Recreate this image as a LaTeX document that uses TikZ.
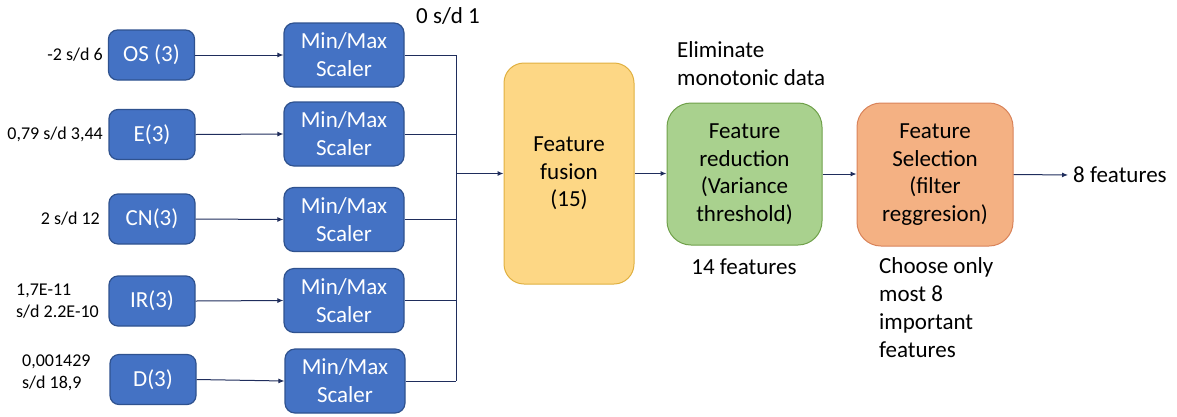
\documentclass[tikz,border=0pt]{standalone}
\usepackage{fontspec}
\setmainfont{Carlito}
\usetikzlibrary{arrows.meta}
\definecolor{boxblue}{HTML}{4472C4}
\definecolor{boxblueline}{HTML}{2F528F}
\definecolor{linenavy}{HTML}{1F2D5C}
\definecolor{fusionfill}{HTML}{FDD785}
\definecolor{fusionline}{HTML}{E0B040}
\definecolor{redfill}{HTML}{A9D18E}
\definecolor{redline}{HTML}{6FA04A}
\definecolor{selfill}{HTML}{F4B183}
\definecolor{selline}{HTML}{D9835A}
\tikzset{
  inbox/.style={draw=boxblueline, line width=1.2pt, fill=boxblue, rounded corners=9pt,
    minimum width=86pt, minimum height=50pt, inner sep=0pt, text=white, font=\fontsize{23}{27}\selectfont},
  scalerbox/.style={draw=boxblueline, line width=1.2pt, fill=boxblue, rounded corners=10pt,
    minimum width=120pt, minimum height=64pt, inner sep=0pt, text=white, align=center,
    font=\fontsize{23}{28}\selectfont},
  bigbox/.style={line width=1pt, inner sep=0pt, align=center, text=black,
    font=\fontsize{23}{27.5}\selectfont},
  lbl/.style={inner sep=0pt, text=black, font=\fontsize{18}{22}\selectfont},
  rlbl/.style={inner sep=0pt, text=black, font=\fontsize{23}{28}\selectfont},
  conn/.style={draw=linenavy, line width=1pt},
  arr/.style={conn, -{Latex[length=6pt,width=5pt]}},
}
\begin{document}
\begin{tikzpicture}[x=1pt, y=-1pt]
\useasboundingbox (0,0) rectangle (1177,416);
% input boxes
\node[inbox] (os) at (151.5,55) {OS (3)};
\node[inbox] (e)  at (152,134.5) {E(3)};
\node[inbox] (cn) at (152,219) {CN(3)};
\node[inbox] (ir) at (152,301) {IR(3)};
\node[inbox] (d)  at (153,379.5) {D(3)};
% scalers
\node[scalerbox] (s1) at (344,55) {Min/Max\\Scaler};
\node[scalerbox] (s2) at (344,134) {Min/Max\\Scaler};
\node[scalerbox] (s3) at (344,219.5) {Min/Max\\Scaler};
\node[scalerbox] (s4) at (344,300.5) {Min/Max\\Scaler};
\node[scalerbox] (s5) at (345,381) {Min/Max\\Scaler};
% left labels
\node[lbl, anchor=east] (l1) at (103,55) {-2 s/d 6};
\node[lbl, anchor=east] (l2) at (103,134) {0,79 s/d 3,44};
\node[lbl, anchor=east] (l3) at (100,219) {2 s/d 12};
\node[lbl, anchor=west, align=left, font=\fontsize{18}{22}\selectfont] (l4) at (16,301) {1,7E-11\\s/d 2.2E-10};
\node[lbl, anchor=west, align=left, font=\fontsize{18}{22}\selectfont] (l5) at (22,373) {0,001429\\s/d 18,9};
% big boxes
\node[bigbox, draw=fusionline, fill=fusionfill, rounded corners=20pt,
  minimum width=130pt, minimum height=221pt] (fus) at (569,173.5) {Feature\\fusion\\(15)};
\node[bigbox, draw=redline, fill=redfill, rounded corners=24pt,
  minimum width=155pt, minimum height=142pt] (red) at (744.5,174) {Feature\\reduction\\(Variance\\threshold)};
\node[bigbox, draw=selline, fill=selfill, rounded corners=24pt,
  minimum width=156pt, minimum height=143pt] (sel) at (935,174.5) {Feature\\Selection\\(filter\\reggresion)};
% right labels
\node[rlbl, anchor=west] (zero) at (416,16) {0 s/d 1};
\node[rlbl, anchor=west, align=left] (elim) at (677,63.5) {Eliminate\\monotonic data};
\node[rlbl] (f14) at (744,267) {14 features};
\node[rlbl, anchor=north west, align=left] (choose) at (879,257) {Choose only\\most 8\\important\\features};
\node[rlbl, anchor=west] (f8) at (1073,175) {8 features};
% connectors
\foreach \a/\b in {os/s1,e/s2,cn/s3,ir/s4,d/s5}{
  \draw[arr] (\a.east) -- (\b.west);
}
\coordinate (b1) at (456,55);
\coordinate (b5) at (456,381);
\coordinate (bm) at (456,173.5);
\draw[conn] (s1.east) -- (b1);
\draw[conn] (s2.east) -- (s2.east -| b1);
\draw[conn] (s3.east) -- (s3.east -| b1);
\draw[conn] (s4.east) -- (s4.east -| b1);
\draw[conn] (s5.east) -- (b5);
\draw[conn] (b1) -- (b5);
\draw[arr] (bm) -- (fus.west);
\draw[arr] (fus.east) -- (red.west |- fus.east);
\draw[arr] (red.east) -- (sel.west |- red.east);
\draw[arr, shorten >=5pt] (sel.east) -- (f8.west);
\end{tikzpicture}
\end{document}
